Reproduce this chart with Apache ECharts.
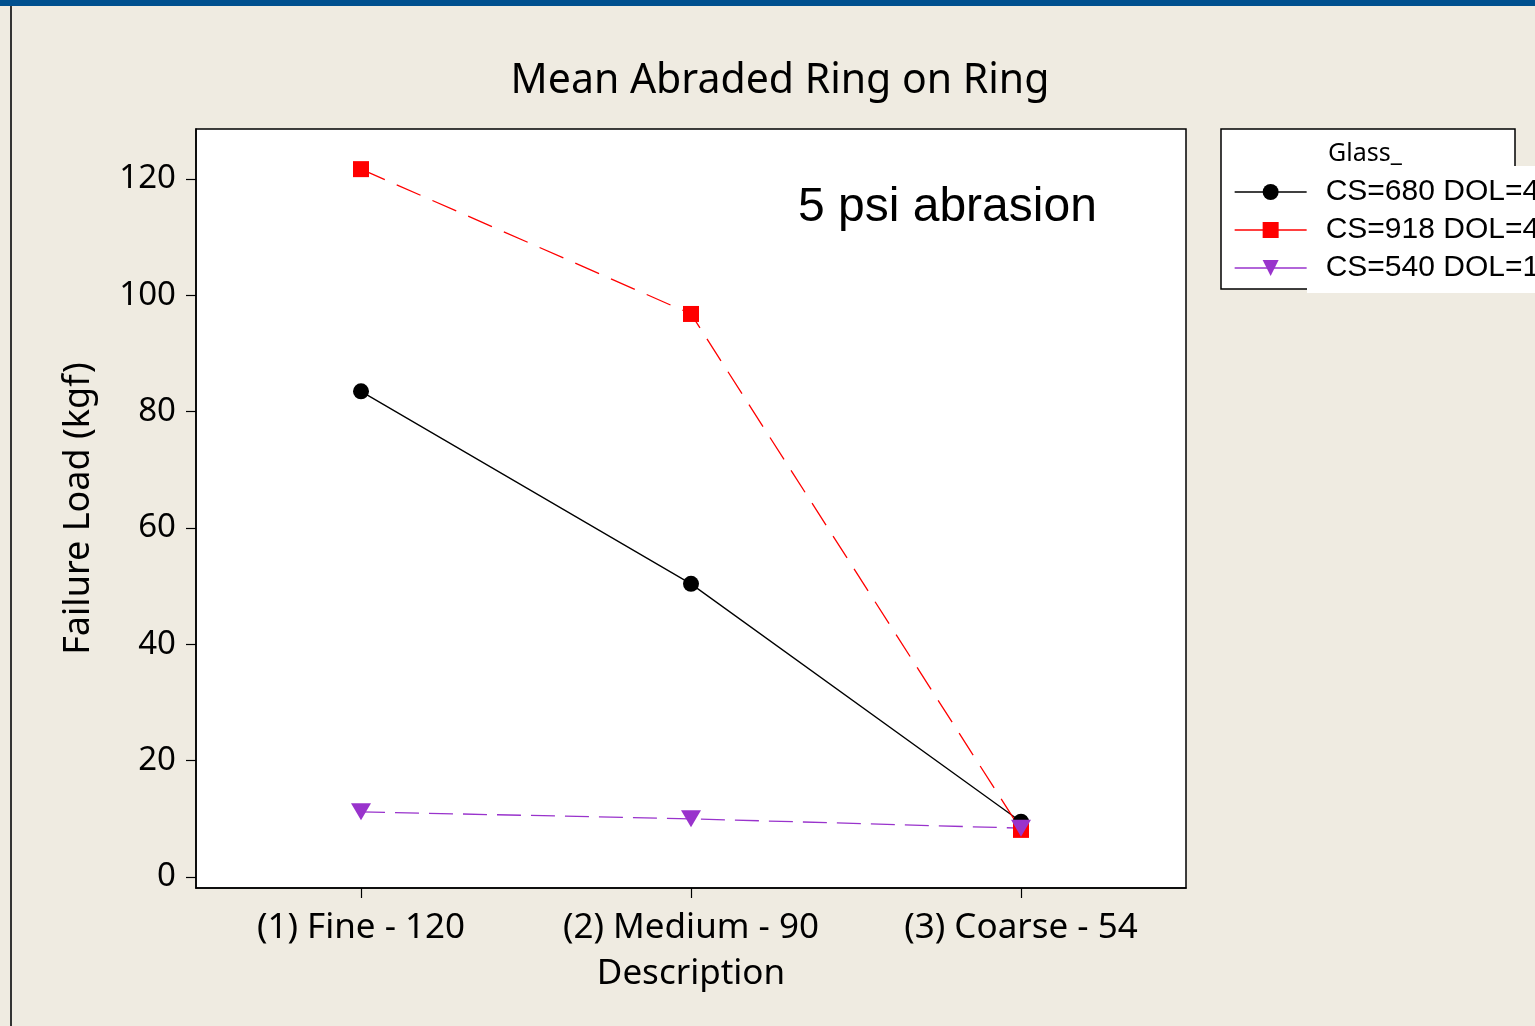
<!DOCTYPE html>
<html>
<head>
<meta charset="utf-8">
<script src="https://cdn.jsdelivr.net/npm/echarts@6/dist/echarts.min.js"></script>
<style>
html,body{margin:0;padding:0;background:#EFEBE1;overflow:hidden;}
#chart{width:1535px;height:1026px;}
</style>
</head>
<body>
<div id="chart"></div>
<script>
const categories = ['(1) Fine - 120', '(2) Medium - 90', '(3) Coarse - 54'];
const seriesNames = ['CS=680 DOL=45', 'CS=918 DOL=45', 'CS=540 DOL=12'];
const cs680 = [83.5, 50.4, 9.5];
const cs918 = [121.7, 96.8, 8.1];
const cs540 = [11.2, 10.0, 8.4];
const yTicks = [0, 20, 40, 60, 80, 100, 120];

const chart = echarts.init(document.getElementById('chart'));
const FONT = 'Noto Sans';
chart.setOption({
  backgroundColor: '#EFEBE1',
  animation: false,
  title: {
    text: 'Mean Abraded Ring on Ring',
    left: 775, top: 56, textAlign: 'center',
    textStyle: {fontFamily: FONT, fontWeight: 'normal', fontSize: 41, color: '#000'}
  },
  grid: {
    left: 196, top: 129, width: 990, height: 759,
    show: true, backgroundColor: '#fff', borderColor: '#000', borderWidth: 1.5
  },
  legend: {
    orient: 'vertical', left: 1229, top: 172,
    itemWidth: 72, itemHeight: 20, itemGap: 8,
    data: seriesNames,
    lineStyle: {type: 'solid', width: 1.3},
    textStyle: {fontFamily: 'Liberation Sans', fontSize: 30, color: '#000', padding: [0, 0, 0, 14], lineHeight: 20}
  },
  xAxis: {
    type: 'category', data: categories, boundaryGap: true,
    name: 'Description', nameLocation: 'middle', nameGap: 69,
    nameTextStyle: {fontFamily: FONT, fontSize: 35, color: '#000'},
    axisLine: {onZero: false, lineStyle: {color: '#000', width: 1.5}},
    axisTick: {show: true, interval: 0, alignWithLabel: true, length: 10, lineStyle: {color: '#000', width: 1.2}},
    axisLabel: {interval: 0, hideOverlap: false, fontFamily: FONT, fontSize: 35, color: '#000', margin: 23}
  },
  yAxis: {
    type: 'value', min: -1.89, max: 128.6,
    name: 'Failure Load (kgf)', nameLocation: 'middle', nameGap: 99, nameRotate: 90,
    nameTextStyle: {fontFamily: FONT, fontSize: 36, color: '#000'},
    splitLine: {show: false},
    axisLine: {show: true, lineStyle: {color: '#000', width: 1.5}},
    axisTick: {show: true, length: 10, customValues: yTicks, lineStyle: {color: '#000', width: 1.2}},
    axisLabel: {fontFamily: FONT, fontSize: 33, color: '#000', margin: 20, customValues: yTicks}
  },
  series: [
    {
      name: seriesNames[0], type: 'line', data: cs680,
      symbol: 'circle', symbolSize: 16,
      itemStyle: {color: '#000'}, lineStyle: {color: '#000', width: 1.3, type: 'solid'}
    },
    {
      name: seriesNames[1], type: 'line', data: cs918,
      symbol: 'rect', symbolSize: 16,
      itemStyle: {color: '#FF0000'}, lineStyle: {color: '#FF0000', width: 1.3, type: [26, 13]}
    },
    {
      name: seriesNames[2], type: 'line', data: cs540,
      symbol: 'triangle', symbolRotate: 180, symbolSize: [20, 17],
      itemStyle: {color: '#9933CC'}, lineStyle: {color: '#9933CC', width: 1.3, type: [24, 10]}
    }
  ],
  graphic: [
    {type: 'rect', shape: {x: 0, y: 0, width: 1535, height: 6}, style: {fill: '#00508F'}, z: 100},
    {type: 'rect', shape: {x: 10, y: 6, width: 2, height: 1020}, style: {fill: '#333'}, z: 100},
    {type: 'rect', shape: {x: 1221, y: 129, width: 294, height: 160}, style: {fill: '#fff', stroke: '#000', lineWidth: 1.5}, z: 0},
    {type: 'rect', shape: {x: 1307, y: 166, width: 240, height: 127}, style: {fill: '#fff'}, z: 1},
    {type: 'text', x: 1328, y: 154, style: {text: 'Glass_', fontFamily: FONT, fontSize: 25, fill: '#000', verticalAlign: 'middle'}, z: 2},
    {type: 'text', x: 798, y: 208, style: {text: '5 psi abrasion', fontFamily: 'Liberation Sans', fontSize: 48, fill: '#000', verticalAlign: 'middle'}, z: 50}
  ]
});
</script>
</body>
</html>
